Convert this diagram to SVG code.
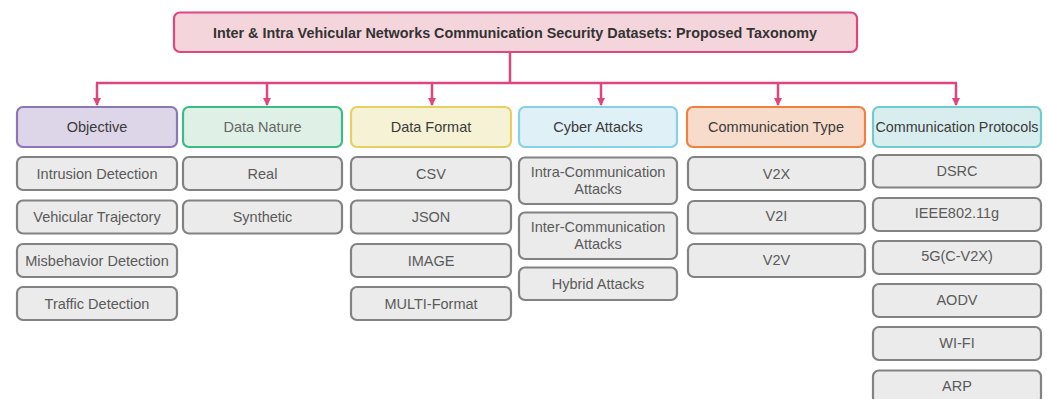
<svg xmlns="http://www.w3.org/2000/svg" width="1047" height="399" viewBox="0 0 1047 399">
<style>
text{font-family:"Liberation Sans",Arial,sans-serif;font-size:14.5px;text-anchor:middle;dominant-baseline:central}
.c rect{fill:#ebebeb;stroke:#828282;stroke-width:2.2}
.c text{fill:#5a5a5a}
.h text{fill:#3a3a3a}
.conn{fill:none;stroke:#e0457b;stroke-width:2.5}
</style>
<defs>
<marker id="ah" markerWidth="8" markerHeight="8" refX="7" refY="4" orient="auto" markerUnits="userSpaceOnUse">
<path d="M0,0 L8,4 L0,8 Z" fill="#e0457b"/>
</marker>
</defs>
<g id="connectors">
<path class="conn" d="M510,52 V83 M96,83 H957"/>
<path class="conn" d="M97,83 V105" marker-end="url(#ah)"/>
<path class="conn" d="M267,83 V105" marker-end="url(#ah)"/>
<path class="conn" d="M432,83 V105" marker-end="url(#ah)"/>
<path class="conn" d="M601,83 V105" marker-end="url(#ah)"/>
<path class="conn" d="M778,83 V105" marker-end="url(#ah)"/>
<path class="conn" d="M956,83 V105" marker-end="url(#ah)"/>
</g>
<g id="title">
<rect x="174" y="12.5" width="683" height="39.5" rx="6" fill="#f5d5dc" stroke="#e0457b" stroke-width="2.2"/>
<text x="515" y="32.5" font-weight="bold" fill="#333" style="font-size:14px" textLength="604" lengthAdjust="spacingAndGlyphs">Inter &amp; Intra Vehicular Networks Communication Security Datasets: Proposed Taxonomy</text>
</g>
<g id="h-objective" class="h"><rect x="17" y="107" width="160" height="40" rx="6" fill="#ddd5e8" stroke="#8a76b8" stroke-width="2.2"/><text x="97" y="127">Objective</text></g>
<g id="h-datanature" class="h"><rect x="183" y="107" width="159" height="40" rx="6" fill="#dff0e6" stroke="#3dbb84" stroke-width="2.2"/><text x="262.5" y="127" style="fill:#666">Data Nature</text></g>
<g id="h-dataformat" class="h"><rect x="351" y="107" width="160" height="40" rx="6" fill="#f5f2d5" stroke="#e6d064" stroke-width="2.2"/><text x="431" y="127">Data Format</text></g>
<g id="h-cyber" class="h"><rect x="519" y="107" width="158" height="40" rx="6" fill="#dff0f6" stroke="#86d0e8" stroke-width="2.2"/><text x="598" y="127">Cyber Attacks</text></g>
<g id="h-commtype" class="h"><rect x="687" y="107" width="178" height="40" rx="6" fill="#f8dccb" stroke="#f08040" stroke-width="2.2"/><text x="776" y="127">Communication Type</text></g>
<g id="h-commproto" class="h"><rect x="873" y="107" width="168" height="40" rx="6" fill="#d8eeee" stroke="#70cccc" stroke-width="2.2"/><text x="957" y="127" textLength="163" lengthAdjust="spacingAndGlyphs">Communication Protocols</text></g>

<g class="c">
<g id="n-intrusion"><rect x="17" y="157" width="160" height="33" rx="6"/><text x="97" y="173.5">Intrusion Detection</text></g>
<g id="n-trajectory"><rect x="17" y="200.5" width="160" height="33" rx="6"/><text x="97" y="217">Vehicular Trajectory</text></g>
<g id="n-misbehavior"><rect x="17" y="244" width="160" height="33" rx="6"/><text x="97" y="260.5">Misbehavior Detection</text></g>
<g id="n-traffic"><rect x="17" y="287" width="160" height="33" rx="6"/><text x="97" y="303.5">Traffic Detection</text></g>

<g id="n-real"><rect x="183" y="157" width="159" height="33" rx="6"/><text x="262.5" y="173.5">Real</text></g>
<g id="n-synthetic"><rect x="183" y="200.5" width="159" height="33" rx="6"/><text x="262.5" y="217">Synthetic</text></g>

<g id="n-csv"><rect x="351" y="157" width="160" height="33" rx="6"/><text x="431" y="173.5">CSV</text></g>
<g id="n-json"><rect x="351" y="200.5" width="160" height="33" rx="6"/><text x="431" y="217">JSON</text></g>
<g id="n-image"><rect x="351" y="244" width="160" height="33" rx="6"/><text x="431" y="260.5">IMAGE</text></g>
<g id="n-multi"><rect x="351" y="287" width="160" height="33" rx="6"/><text x="431" y="303.5">MULTI-Format</text></g>

<g id="n-intra"><rect x="519" y="157.5" width="158" height="46.5" rx="6"/><text x="598" y="172">Intra-Communication</text><text x="598" y="189">Attacks</text></g>
<g id="n-inter"><rect x="519" y="212.5" width="158" height="46.5" rx="6"/><text x="598" y="227">Inter-Communication</text><text x="598" y="244">Attacks</text></g>
<g id="n-hybrid"><rect x="519" y="267.5" width="158" height="32.5" rx="6"/><text x="598" y="283.5">Hybrid Attacks</text></g>

<g id="n-v2x"><rect x="688" y="157" width="177" height="33" rx="6"/><text x="776.5" y="173.5">V2X</text></g>
<g id="n-v2i"><rect x="688" y="201" width="177" height="32.5" rx="6"/><text x="776.5" y="216">V2I</text></g>
<g id="n-v2v"><rect x="688" y="244" width="177" height="33" rx="6"/><text x="776.5" y="259.5">V2V</text></g>

<g id="n-dsrc"><rect x="873" y="155" width="168" height="32.5" rx="6"/><text x="957" y="170.5">DSRC</text></g>
<g id="n-ieee"><rect x="873" y="198" width="168" height="33" rx="6"/><text x="957" y="213">IEEE802.11g</text></g>
<g id="n-5g"><rect x="873" y="241" width="168" height="33" rx="6"/><text x="957" y="256">5G(C-V2X)</text></g>
<g id="n-aodv"><rect x="873" y="284" width="168" height="33" rx="6"/><text x="957" y="299.5">AODV</text></g>
<g id="n-wifi"><rect x="873" y="327" width="168" height="33" rx="6"/><text x="957" y="343">WI-FI</text></g>
<g id="n-arp"><rect x="873" y="370.5" width="168" height="33" rx="6"/><text x="957" y="386">ARP</text></g>
</g>
</svg>
